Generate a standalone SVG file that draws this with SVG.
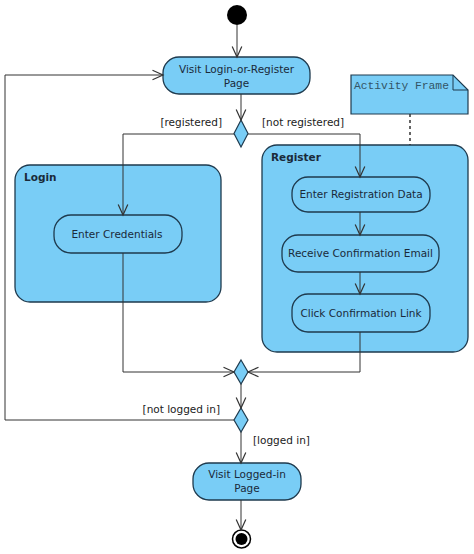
<svg xmlns="http://www.w3.org/2000/svg" width="474" height="554" viewBox="0 0 474 554">
<style>
.frame{fill:#79CDF6;stroke:#1E3A4E;stroke-width:1.3}
.act{fill:#79CDF6;stroke:#1E3A4E;stroke-width:1.3}
.dia{fill:#79CDF6;stroke:#1E3A4E;stroke-width:1.2}
.t{font-family:"DejaVu Sans",sans-serif;font-size:10.5px;fill:#1A2A3A}
.c{text-anchor:middle}
.b{font-weight:bold;font-size:10.5px}
.lbl{font-family:"DejaVu Sans",sans-serif;font-size:10.5px;fill:#222}
.mono{font-family:"Liberation Mono",monospace;font-size:11.3px;fill:#335566}
.con{fill:none;stroke:#333;stroke-width:1}
</style>
<defs>
<marker id="arr" markerUnits="userSpaceOnUse" markerWidth="14" markerHeight="14" refX="11" refY="6" orient="auto">
<path d="M0.5,1.2 L11,6 L0.5,10.8" fill="none" stroke="#333" stroke-width="1.2"/>
</marker>
</defs>
<g id="login-frame"><rect class="frame" x="15" y="165" width="206" height="137" rx="15"/><text class="t b" x="24" y="181">Login</text></g>
<g id="register-frame"><rect class="frame" x="262" y="145" width="206" height="207" rx="15"/><text class="t b" x="271" y="161">Register</text></g>
<g id="note"><polygon points="351,75 453,75 468,90 468,114 351,114" fill="#79CDF6" stroke="#1E3A4E" stroke-width="1.2"/><polyline points="453,75 453,90 468,90" fill="none" stroke="#1E3A4E" stroke-width="1"/><text class="mono" x="354" y="89">Activity Frame</text></g>
<g id="start"><circle cx="237" cy="15" r="10" fill="#000"/></g>
<g id="visit-login"><rect class="act" x="163" y="57" width="147" height="37" rx="16"/><text class="t c" x="236.5" y="72.5">Visit Login-or-Register</text><text class="t c" x="236.5" y="86.5">Page</text></g>
<g id="decision1"><polygon class="dia" points="241,120 248,133.5 241,147 234,133.5"/></g>
<g id="enter-credentials"><rect class="act" x="54" y="215" width="128" height="38" rx="17"/><text class="t c" x="117" y="238">Enter Credentials</text></g>
<g id="enter-registration"><rect class="act" x="292" y="177" width="138" height="35" rx="16"/><text class="t c" x="361" y="198">Enter Registration Data</text></g>
<g id="receive-email"><rect class="act" x="282" y="235" width="157" height="37" rx="16"/><text class="t c" x="360.5" y="257">Receive Confirmation Email</text></g>
<g id="click-link"><rect class="act" x="292" y="294" width="138" height="38" rx="16"/><text class="t c" x="361" y="317">Click Confirmation Link</text></g>
<g id="merge"><polygon class="dia" points="241,360 248,372 241,384 234,372"/></g>
<g id="decision2"><polygon class="dia" points="241,408 248,420 241,432 234,420"/></g>
<g id="visit-logged"><rect class="act" x="193" y="463" width="108" height="37" rx="16"/><text class="t c" x="247" y="477.5">Visit Logged-in</text><text class="t c" x="247" y="491.5">Page</text></g>
<g id="end"><circle cx="241.5" cy="539" r="9" fill="#fff" stroke="#000" stroke-width="1.5"/><circle cx="241.5" cy="539" r="6" fill="#000"/></g>
<g id="connectors">
<path class="con" d="M237,25 L237,57" marker-end="url(#arr)"/>
<path class="con" d="M241,94 L241,120" marker-end="url(#arr)"/>
<path class="con" d="M234,134 L123,134 L123,215" marker-end="url(#arr)"/>
<path class="con" d="M248,134 L360,134 L360,177" marker-end="url(#arr)"/>
<path class="con" d="M360,212 L360,235" marker-end="url(#arr)"/>
<path class="con" d="M360,272 L360,294" marker-end="url(#arr)"/>
<path class="con" d="M360,332 L360,372 L248,372" marker-end="url(#arr)"/>
<path class="con" d="M123,253 L123,372 L234,372" marker-end="url(#arr)"/>
<path class="con" d="M241,384 L241,408" marker-end="url(#arr)"/>
<path class="con" d="M234,420 L5,420 L5,75 L163,75" marker-end="url(#arr)"/>
<path class="con" d="M241,432 L241,463" marker-end="url(#arr)"/>
<path class="con" d="M241,500 L241,530" marker-end="url(#arr)"/>
<path d="M410,114 L410,145" fill="none" stroke="#333" stroke-width="1.5" stroke-dasharray="3,3"/>
<text class="lbl" x="222" y="126" text-anchor="end">[registered]</text>
<text class="lbl" x="262" y="126">[not registered]</text>
<text class="lbl" x="220" y="413" text-anchor="end">[not logged in]</text>
<text class="lbl" x="253" y="444">[logged in]</text>
</g>
</svg>
